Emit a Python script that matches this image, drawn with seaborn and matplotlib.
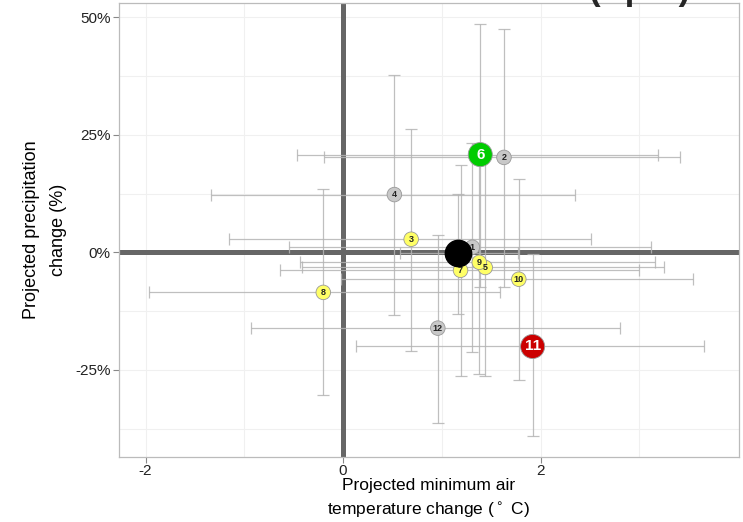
import numpy as np
import pandas as pd
import matplotlib
matplotlib.use("Agg")
import matplotlib.pyplot as plt
import seaborn as sns

# Model projections (x: min air temperature change, y: precipitation change %)
models = ['1', '2', '3', '4', '5', '6', '7', '8', '9', '10', '11', '12']
temp = [1.31, 1.63, 0.69, 0.52, 1.44, 1.39, 1.19, -0.20, 1.38, 1.78, 1.92, 0.96]
precip = [1.1, 20.2, 2.8, 12.3, -3.2, 20.8, -3.8, -8.5, -2.1, -5.7, -20.0, -16.1]
temp_lo = [-0.55, -0.19, -1.15, -1.34, -0.42, -0.47, -0.64, -1.97, -0.44, -0.02, 0.13, -0.93]
temp_hi = [3.12, 3.41, 2.51, 2.35, 3.25, 3.19, 3.00, 1.59, 3.16, 3.54, 3.66, 2.81]
precip_lo = [-21.2, -7.4, -21.0, -13.4, -26.3, -7.4, -26.3, -30.4, -25.9, -27.2, -39.0, -36.3]
precip_hi = [23.2, 47.6, 26.3, 37.8, 20.0, 48.6, 18.5, 13.4, 21.0, 15.7, -0.4, 3.6]
group = ['grey', 'grey', 'yellow', 'grey', 'yellow', 'green', 'yellow', 'yellow',
         'yellow', 'yellow', 'red', 'grey']

# Ensemble mean
mean_temp, mean_precip = 1.165, -0.2
mean_temp_rng = [0.58, 1.77]
mean_precip_rng = [-13.0, 12.5]

df = pd.DataFrame({'model': models, 'temp': temp, 'precip': precip,
                   'temp_lo': temp_lo, 'temp_hi': temp_hi,
                   'precip_lo': precip_lo, 'precip_hi': precip_hi, 'group': group})

sns.set_theme(style="white")
plt.rcParams['font.family'] = ['Liberation Sans', 'DejaVu Sans']

fig = plt.figure(figsize=(7.43, 5.22), dpi=100)
ax = fig.add_axes([0.160, 0.1245, 0.8346, 0.8695])

# faint ggplot-like grid
for gx in [-2, -1, 0, 1, 2, 3]:
    ax.axvline(gx, color='#f0f0f0', lw=0.8, zorder=0)
for gy in [-37.5, -25, -12.5, 0, 12.5, 25, 37.5, 50]:
    ax.axhline(gy, color='#f0f0f0', lw=0.8, zorder=0)

# thick zero lines
ax.axvline(0, color='#666666', lw=3.6, zorder=1)
ax.axhline(0, color='#666666', lw=3.6, zorder=1)

# error bars
xerr = [df.temp - df.temp_lo, df.temp_hi - df.temp]
yerr = [df.precip - df.precip_lo, df.precip_hi - df.precip]
ax.errorbar(df.temp, df.precip, xerr=xerr, yerr=yerr, fmt='none',
            ecolor='#b4b4b4', elinewidth=0.9, capsize=4.5, capthick=0.9,
            alpha=0.85, zorder=2)
ax.errorbar([mean_temp], [mean_precip],
            xerr=[[mean_temp - mean_temp_rng[0]], [mean_temp_rng[1] - mean_temp]],
            yerr=[[mean_precip - mean_precip_rng[0]], [mean_precip_rng[1] - mean_precip]],
            fmt='none', ecolor='#b4b4b4', elinewidth=0.9, capsize=4.5,
            capthick=0.9, alpha=0.85, zorder=2)

palette = {'grey': '#c8c8c8', 'yellow': '#ffff66', 'green': '#00cc00', 'red': '#cc0000'}
sizes = {'grey': 110, 'yellow': 110, 'green': 300, 'red': 300}
sns.scatterplot(data=df, x='temp', y='precip', hue='group', size='group',
                palette=palette, sizes=sizes, edgecolor='#999999', linewidth=0.6,
                legend=False, ax=ax, zorder=3)
ax.scatter([mean_temp], [mean_precip], s=360, color='black', zorder=4)

for _, r in df.iterrows():
    big = r.group in ('green', 'red')
    ax.text(r.temp, r.precip, r.model, ha='center', va='center',
            fontsize=11 if big else 6.5, fontweight='bold',
            color='white' if big else '#222222', zorder=5)

ax.set_xlim(-2.27, 4.01)
ax.set_ylim(-43.5, 53)
ax.set_xticks([-2, 0, 2])
ax.set_xticklabels(['-2', '0', '2'])
ax.set_yticks([-25, 0, 25, 50])
ax.set_yticklabels(['-25%', '0%', '25%', '50%'])
ax.tick_params(axis='both', which='major', labelsize=11, labelcolor='#222222',
               color='#888888', length=4, width=0.8, direction='out',
               bottom=True, left=True)
ax.tick_params(axis='x', pad=1)
ax.tick_params(axis='y', pad=2)
for sp in ax.spines.values():
    sp.set_color('#bbbbbb')
    sp.set_linewidth(0.9)

ax.set_xlabel("Projected minimum air\ntemperature change ($^\\circ$ C)",
              fontsize=12.5, linespacing=1.45, color='black', labelpad=0)
ax.set_ylabel("Projected precipitation\nchange (%)", fontsize=13,
              linespacing=1.75, color='black', labelpad=6)

# clipped panel title at the very top
fig.text(0.861, 1.0, "(April)", fontsize=25, fontweight='bold',
         ha='center', va='baseline')

fig.savefig("out.png", dpi=100)
